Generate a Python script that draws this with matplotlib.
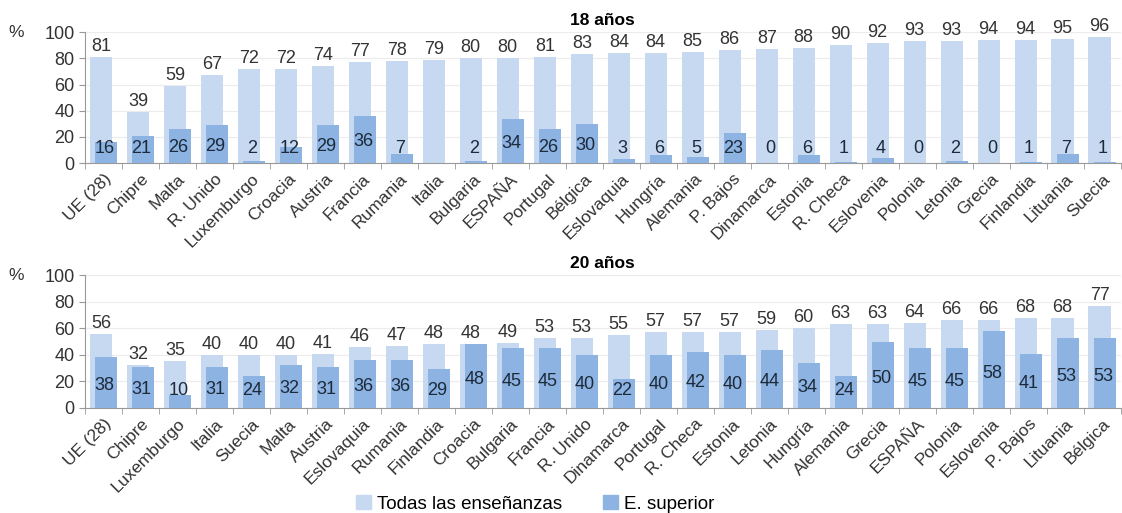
import numpy as np
import matplotlib
matplotlib.use("Agg")
import matplotlib.pyplot as plt
from matplotlib.patches import Patch

plt.rcParams['font.family'] = ['Liberation Sans', 'DejaVu Sans']

# --- 18 años ---
paises_18 = ["UE (28)", "Chipre", "Malta", "R. Unido", "Luxemburgo", "Croacia", "Austria",
             "Francia", "Rumania", "Italia", "Bulgaria", "ESPAÑA", "Portugal", "Bélgica",
             "Eslovaquia", "Hungría", "Alemania", "P. Bajos", "Dinamarca", "Estonia",
             "R. Checa", "Eslovenia", "Polonia", "Letonia", "Grecia", "Finlandia",
             "Lituania", "Suecia"]
todas_18 = [81, 39, 59, 67, 72, 72, 74, 77, 78, 79, 80, 80, 81, 83, 84, 84, 85, 86, 87, 88,
            90, 92, 93, 93, 94, 94, 95, 96]
superior_18 = [16, 21, 26, 29, 2, 12, 29, 36, 7, np.nan, 2, 34, 26, 30, 3, 6, 5, 23, 0, 6,
               1, 4, 0, 2, 0, 1, 7, 1]

# --- 20 años ---
paises_20 = ["UE (28)", "Chipre", "Luxemburgo", "Italia", "Suecia", "Malta", "Austria",
             "Eslovaquia", "Rumania", "Finlandia", "Croacia", "Bulgaria", "Francia",
             "R. Unido", "Dinamarca", "Portugal", "R. Checa", "Estonia", "Letonia",
             "Hungría", "Alemania", "Grecia", "ESPAÑA", "Polonia", "Eslovenia", "P. Bajos",
             "Lituania", "Bélgica"]
todas_20 = [56, 32, 35, 40, 40, 40, 41, 46, 47, 48, 48, 49, 53, 53, 55, 57, 57, 57, 59, 60,
            63, 63, 64, 66, 66, 68, 68, 77]
superior_20 = [38, 31, 10, 31, 24, 32, 31, 36, 36, 29, 48, 45, 45, 40, 22, 40, 42, 40, 44, 34,
               24, 50, 45, 45, 58, 41, 53, 53]

light = '#c6d9f0'
dark = '#8db3e2'
gray = '#999999'

fig = plt.figure(figsize=(11.22, 5.13), dpi=100)
ax1 = fig.add_axes([0.0758, 0.682, 0.923, 0.2554])
ax2 = fig.add_axes([0.0758, 0.2047, 0.923, 0.259])


def panel(ax, names, tot, sup, title, min_y):
    x = np.arange(len(names))
    ax.bar(x - 0.07, tot, width=0.6, color=light, zorder=2)
    ax.bar(x + 0.07, sup, width=0.6, color=dark, zorder=3)
    for xi, t, s in zip(x, tot, sup):
        ax.text(xi - 0.07, t + 1.5, f"{t}", ha='center', va='bottom', fontsize=13,
                color='#333333', zorder=4)
        if not np.isnan(s):
            ax.text(xi + 0.02, max(s * 0.45, min_y), f"{int(s)}", ha='center', va='center',
                    fontsize=13, color='#1c2a3a', zorder=4)
    ax.set_xlim(-0.5, len(names) - 0.5)
    ax.set_ylim(0, 100)
    ax.set_yticks(range(0, 101, 20))
    ax.set_xticks(x)
    ax.set_xticklabels(names, rotation=45, ha='right', rotation_mode='anchor',
                       fontsize=12.5, color='#333333')
    ax.set_xticks(np.arange(len(names) + 1) - 0.5, minor=True)
    ax.tick_params(axis='x', which='major', length=0, pad=6)
    ax.tick_params(axis='x', which='minor', length=4, color=gray, direction='out')
    ax.tick_params(axis='y', length=4, color=gray, labelsize=13, labelcolor='#333333')
    ax.grid(axis='y', color='#ececec', linewidth=0.8, zorder=0)
    ax.set_axisbelow(True)
    for side in ['top', 'right']:
        ax.spines[side].set_visible(False)
    for side in ['left', 'bottom']:
        ax.spines[side].set_color(gray)
    ax.set_title(title, fontsize=12.5, fontweight='bold', pad=5)
    ax.text(-0.0665, 1.0, '%', transform=ax.transAxes, ha='center', va='center',
            fontsize=12.5, color='#333333')


panel(ax1, paises_18, todas_18, superior_18, "18 años", 11)
panel(ax2, paises_20, todas_20, superior_20, "20 años", 13)

handles = [Patch(color=light, label='Todas las enseñanzas'),
           Patch(color=dark, label='E. superior')]
fig.legend(handles=handles, loc='center', bbox_to_anchor=(0.477, 0.018), ncol=2,
           frameon=False, fontsize=13.5, handlelength=0.8, handleheight=0.8,
           handletextpad=0.3, columnspacing=2.2, borderpad=0.1)

fig.savefig('out.png', dpi=100)
